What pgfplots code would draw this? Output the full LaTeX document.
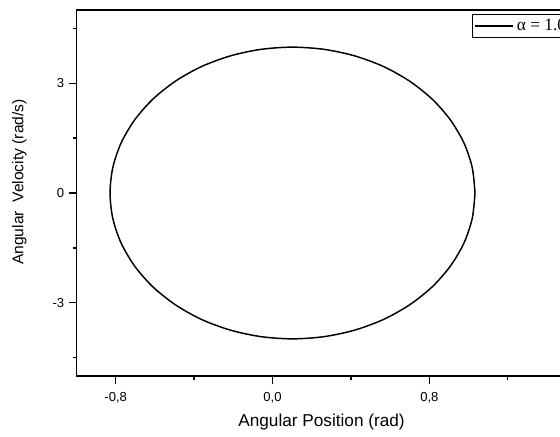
\documentclass[border=0pt]{standalone}
\usepackage{pgfplots}
\pgfplotsset{compat=1.18}
\usepackage{fontspec}
\setmainfont{Liberation Sans}
\newfontfamily\legfont{Liberation Serif}

\begin{document}
\begin{tikzpicture}
\begin{axis}[
  scale only axis, width=367.5pt, height=274.5pt,
  xmin=-1, xmax=1.5, ymin=-5, ymax=5,
  axis line style={line width=1pt},
  every tick/.style={black, line width=1pt},
  tick align=outside, tick pos=left,
  major tick length=5.7pt, minor tick length=3pt,
  xtick={-0.8,0,0.8}, xticklabels={{-0,8},{0,0},{0,8}},
  ytick={-3,0,3}, yticklabels={-3,0,3},
  minor xtick={-0.4,0.4,1.2}, minor ytick={-4.5,-1.5,1.5,4.5},
  tick label style={font=\fontsize{9.8}{11}\selectfont},
  xticklabel style={yshift=-3pt},
  xlabel={Angular Position (rad)},
  ylabel={Angular~ Velocity (rad/s)},
  xlabel style={font=\fontsize{12.9}{15}\selectfont, at={(axis description cs:0.5,-0.125)}, anchor=center},
  ylabel style={font=\fontsize{11.7}{14}\selectfont, at={(axis description cs:-0.1165,0.53)}, anchor=center},
  legend style={at={(axis description cs:0.8078,0.989)}, anchor=north west, draw=black, line width=0.6pt,
    inner xsep=1pt, inner ysep=1.5pt, font=\legfont\fontsize{13}{13}\selectfont, cells={anchor=west}},
  legend image code/.code={\draw[#1] (0pt,0pt) -- (29pt,0pt);},
]
\addplot[black, line width=1.1pt, smooth] coordinates {
(1.033,0) (1.019,0.692) (0.977,1.363) (0.908,1.993) (0.815,2.562) (0.700,3.053)
(0.568,3.451) (0.420,3.745) (0.264,3.924) (0.102,3.985) (-0.060,3.924) (-0.216,3.745)
(-0.364,3.451) (-0.496,3.053) (-0.611,2.562) (-0.704,1.993) (-0.773,1.363) (-0.815,0.692)
(-0.829,0) (-0.815,-0.692) (-0.773,-1.363) (-0.704,-1.993) (-0.611,-2.562) (-0.496,-3.053)
(-0.364,-3.451) (-0.216,-3.745) (-0.060,-3.924) (0.102,-3.985) (0.264,-3.924) (0.420,-3.745)
(0.568,-3.451) (0.700,-3.053) (0.815,-2.562) (0.908,-1.993) (0.977,-1.363) (1.019,-0.692)
(1.033,0)};
\addlegendentry{α = 1.0}
\coordinate (o) at (rel axis cs:0,0);
\end{axis}
\pgfresetboundingbox
\path[use as bounding box] ([xshift=-57.4pt,yshift=-45.2pt]o) rectangle ([xshift=362.6pt,yshift=282pt]o);
\end{tikzpicture}
\end{document}
